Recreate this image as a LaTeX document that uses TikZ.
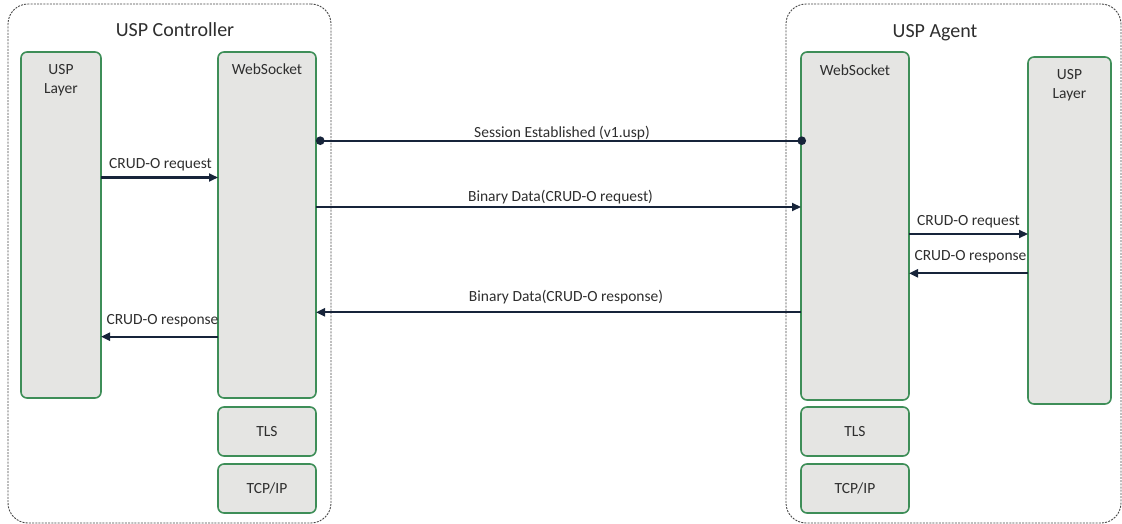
\documentclass[tikz,border=0pt]{standalone}
\usepackage{fontspec}
\setmainfont{Carlito}
\usetikzlibrary{arrows.meta,calc}
\definecolor{boxfill}{HTML}{E5E5E3}
\definecolor{boxline}{HTML}{3E8E58}
\definecolor{arrowcol}{HTML}{17243A}
\definecolor{txtcol}{HTML}{2E2E2E}
\definecolor{dashcol}{HTML}{464646}
\tikzset{
  container/.style={draw=dashcol, line width=0.9pt, dash pattern=on 2pt off 1.2pt,
    rounded corners=20pt, inner sep=0pt, outer sep=0pt},
  title/.style={text=txtcol, font=\fontsize{20}{24}\selectfont, inner sep=0pt},
  layerbox/.style={draw=boxline, fill=boxfill, line width=1.6pt, rounded corners=6pt,
    inner sep=0pt, outer sep=0pt, anchor=north west},
  boxtext/.style={text=txtcol, font=\fontsize{15.5}{19}\selectfont, align=center, inner sep=0pt},
  msg/.style={draw=arrowcol, line width=2.2pt},
  tip/.style={-{Triangle[length=9pt,width=8pt]}},
  dots/.style={{Circle[length=8.5pt]}-{Circle[length=8.5pt]}},
  lbl/.style={text=txtcol, font=\fontsize{15.5}{19}\selectfont, inner sep=0pt, anchor=base},
}
\begin{document}
\begin{tikzpicture}[x=1pt,y=-1pt]
\useasboundingbox (0,0) rectangle (1122,524);
% containers
\node[container, minimum width=323pt, minimum height=519pt, anchor=north west] (ctrl) at (8,4) {};
\node[container, minimum width=335pt, minimum height=519pt, anchor=north west] (agent) at (786,4) {};
\node[title, anchor=base] (ctrltitle) at (175,36.5) {USP Controller};
\node[title, anchor=base] (agenttitle) at (935,37.5) {USP Agent};
% controller boxes
\node[layerbox, minimum width=80pt, minimum height=346pt] (cusp) at (21,52) {};
\node[layerbox, minimum width=98pt, minimum height=346pt] (cws) at (218,52) {};
\node[layerbox, minimum width=98pt, minimum height=49pt] (ctls) at (218,407) {};
\node[layerbox, minimum width=98pt, minimum height=49pt] (ctcp) at (218,464) {};
% agent boxes
\node[layerbox, minimum width=108pt, minimum height=348pt] (aws) at (801,52) {};
\node[layerbox, minimum width=108pt, minimum height=49pt] (atls) at (801,407) {};
\node[layerbox, minimum width=108pt, minimum height=49pt] (atcp) at (801,464) {};
\node[layerbox, minimum width=83pt, minimum height=347pt] (ausp) at (1028,57) {};
% box texts
\node[boxtext, anchor=north] (cusptxt) at ($(cusp.north)+(0,12)$) {USP\\Layer};
\node[boxtext, anchor=base] (cwstxt) at ($(cws.north)+(0,74.5-52)$) {WebSocket};
\node[boxtext] (ctlstxt) at (ctls.center) {TLS};
\node[boxtext] (ctcptxt) at (ctcp.center) {TCP/IP};
\node[boxtext, anchor=base] (awstxt) at ($(aws.north)+(0,75.5-52)$) {WebSocket};
\node[boxtext] (atlstxt) at (atls.center) {TLS};
\node[boxtext] (atcptxt) at (atcp.center) {TCP/IP};
\node[boxtext, anchor=north] (ausptxt) at ($(ausp.north)+(0,12)$) {USP\\Layer};
% messages between WebSockets
\draw[msg, dots] (cws.east |- 0,140.7) -- ($(aws.west |- 0,140.7)+(5,0)$)
  node[lbl, midway, yshift=3pt, xshift=1pt] (l1) {Session Established (v1.usp)};
\draw[msg, tip] (cws.east |- 0,207) -- (aws.west |- 0,207)
  node[lbl, midway, yshift=6pt, xshift=2pt] (l2) {Binary Data(CRUD-O request)};
\draw[msg, tip] (aws.west |- 0,312.3) -- (cws.east |- 0,312.3)
  node[lbl, midway, yshift=10.5pt, xshift=7.5pt] (l3) {Binary Data(CRUD-O response)};
% controller internal
\draw[msg, tip] (cusp.east |- 0,177.5) -- (cws.west |- 0,177.5)
  node[lbl, midway, yshift=9.5pt, xshift=1pt] (l4) {CRUD-O request};
\draw[msg, tip] (cws.west |- 0,336.7) -- (cusp.east |- 0,336.7)
  node[lbl, midway, yshift=12.5pt, xshift=3pt] (l5) {CRUD-O response};
% agent internal
\draw[msg, tip] (aws.east |- 0,234) -- (ausp.west |- 0,234)
  node[lbl, midway, yshift=9pt] (l6) {CRUD-O request};
\draw[msg, tip] (ausp.west |- 0,273.3) -- (aws.east |- 0,273.3)
  node[lbl, midway, yshift=13pt, xshift=2pt] (l7) {CRUD-O response};
\end{tikzpicture}
\end{document}
